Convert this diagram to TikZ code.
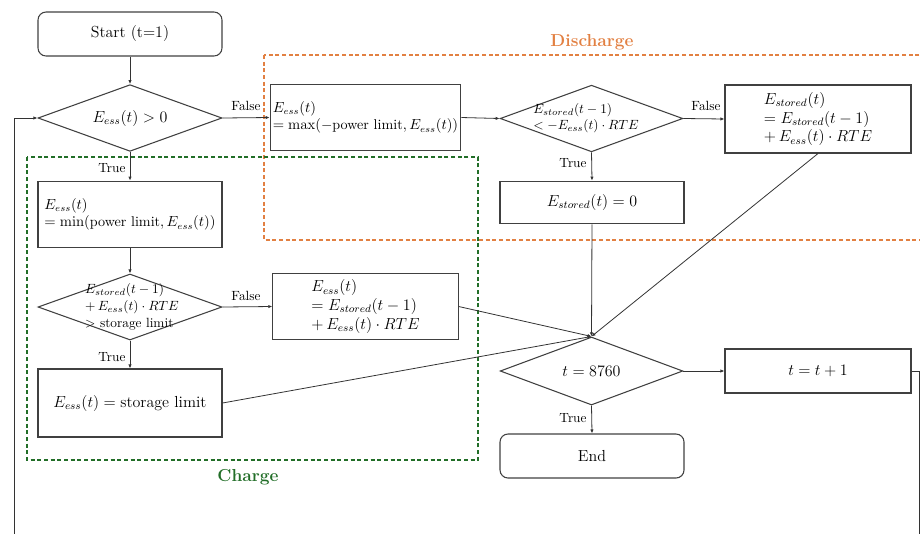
\documentclass[tikz,border=0pt]{standalone}
\usepackage{amsmath}
\usetikzlibrary{shapes.geometric,arrows.meta}
\definecolor{dischargecol}{RGB}{226,128,66}
\definecolor{chargecol}{RGB}{34,110,40}
\tikzset{
  box/.style={draw=black!75, line width=0.8pt, align=left, inner ysep=0pt, inner xsep=2pt,
    font=\fontsize{12}{14}\selectfont},
  smallbox/.style={box, font=\fontsize{10.6}{13}\selectfont},
  term/.style={box, rounded corners=6pt, align=center},
  dec/.style={diamond, draw=black!75, line width=0.8pt, inner sep=0pt},
  dectext/.style={align=left, inner sep=0pt, font=\fontsize{10}{12.5}\selectfont},
  flow/.style={-{Latex[length=3pt,width=2.5pt]}, line width=0.6pt, black!80},
  lbl/.style={font=\fontsize{10}{11}\selectfont, inner sep=1pt},
  region/.style={line width=0.8pt, dash pattern=on 3pt off 2pt}
}
\begin{document}
\begin{tikzpicture}[x=0.75pt,y=-0.75pt]
  \clip (0,0) rectangle (920,533);
  %% regions
  \draw[region, dischargecol] (264,55) rectangle (930,240);
  \node[text=dischargecol, font=\fontsize{13}{14}\bfseries] (dis) at (592,42) {Discharge};
  \draw[region, chargecol] (27,157) rectangle (478,460);
  \node[text=chargecol, font=\fontsize{13}{14}\bfseries] (chg) at (248,477) {Charge};
  %% start and first test
  \node[term, minimum width=138pt, minimum height=33pt] (start) at (130,34) {Start (t=1)};
  \node[dec, minimum width=138pt, minimum height=50pt] (d1) at (130,118) {};
  \node[box, draw=none] (d1t) at (130,118) {$E_{ess}(t) > 0$};
  %% discharge branch
  \node[smallbox, minimum width=139pt, minimum height=50pt] (dmax) at (365.5,117.5)
    {$E_{ess}(t)$\\$= \max(-\text{power limit}, E_{ess}(t))$};
  \node[dec, minimum width=137pt, minimum height=50pt] (d2) at (591.5,118.5) {};
  \node[dectext] (d2t) at (586,118) {$E_{stored}(t-1)$\\$< -E_{ess}(t)\cdot RTE$};
  \node[box, minimum width=139.5pt, minimum height=51pt] (dupd) at (818,119)
    {$E_{stored}(t)$\\$= E_{stored}(t-1)$\\$+\,E_{ess}(t)\cdot RTE$};
  \node[box, minimum width=138pt, minimum height=32pt] (dzero) at (592,202.5)
    {$E_{stored}(t) = 0$};
  %% charge branch
  \node[smallbox, minimum width=138pt, minimum height=50pt] (cmin) at (130,214.5)
    {$E_{ess}(t)$\\$= \min(\text{power limit}, E_{ess}(t))$};
  \node[dec, minimum width=138pt, minimum height=49.5pt] (d3) at (130,307) {};
  \node[dectext] (d3t) at (132,307) {$E_{stored}(t-1)$\\$+\,E_{ess}(t)\cdot RTE$\\$>$ storage limit};
  \node[box, minimum width=139pt, minimum height=50pt] (cst) at (365.5,306.5)
    {$E_{ess}(t)$\\$= E_{stored}(t-1)$\\$+\,E_{ess}(t)\cdot RTE$};
  \node[box, align=center, minimum width=138pt, minimum height=51pt] (clim) at (130,403)
    {$E_{ess}(t) = \text{storage limit}$};
  %% time step
  \node[dec, minimum width=137pt, minimum height=51pt] (d4) at (591.5,371) {};
  \node[box, draw=none] (d4t) at (591.5,371) {$t = 8760$};
  \node[box, align=center, minimum width=139.5pt, minimum height=33pt] (inc) at (818,371) {$t = t + 1$};
  \node[term, minimum width=138pt, minimum height=33pt] (fin) at (592,456) {End};
  \coordinate (loopr) at (919,371);
  %% connectors
  \draw[flow] (start) -- (d1);
  \draw[flow] (d1.east) -- (dmax.west);
  \draw[flow] (d1.south) -- (cmin.north);
  \draw[flow] (dmax.east) -- (d2.west);
  \draw[flow] (d2.east) -- (dupd.west);
  \draw[flow] (d2.south) -- (dzero.north);
  \draw[flow] (cmin.south) -- (d3.north);
  \draw[flow] (d3.east) -- (cst.west);
  \draw[flow] (d3.south) -- (clim.north);
  \draw[flow] (dzero.south) -- (d4.north);
  \draw[flow] (dupd.south) -- (d4.north);
  \draw[flow] (cst.east) -- (d4.north);
  \draw[flow] (clim.east) -- (d4.north);
  \draw[flow] (d4.east) -- (inc.west);
  \draw[flow] (d4.south) -- (fin.north);
  \draw[flow] (inc.east) -- (loopr) -- (919,560) -- (14,560) -- (14,118) -- (d1.west);
  %% labels
  \node[lbl] (l1) at (246,106) {False};
  \node[lbl] (l2) at (112,168) {True};
  \node[lbl] (l3) at (706,106) {False};
  \node[lbl] (l4) at (573,163) {True};
  \node[lbl] (l5) at (246,296) {False};
  \node[lbl] (l6) at (112,357) {True};
  \node[lbl] (l7) at (573,418) {True};
\end{tikzpicture}
\end{document}
